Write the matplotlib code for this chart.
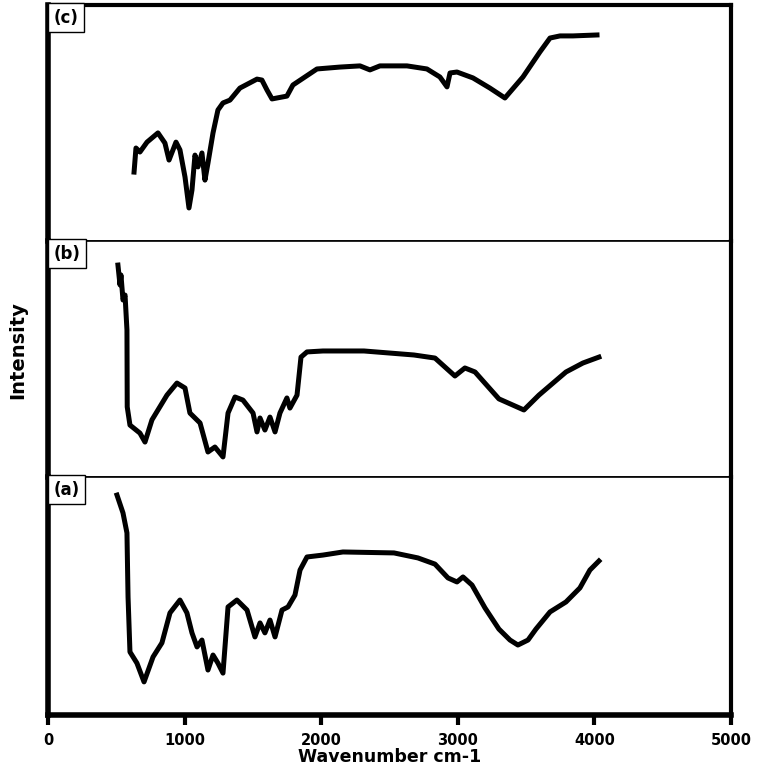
import matplotlib.pyplot as plt

# wavenumber (cm-1) and relative intensity
wn_c = [630, 644, 673, 725, 805, 856, 886, 937, 966, 1003, 1032, 1054, 1076, 1098, 1127,
        1149, 1171, 1208, 1244, 1281, 1332, 1405, 1530, 1566, 1603, 1640, 1749, 1793,
        1969, 2137, 2284, 2357, 2430, 2628, 2774, 2869, 2921, 2943, 2994, 3111, 3235,
        3345, 3477, 3601, 3675, 3748, 3843, 4019]
int_c = [29.2, 39.4, 37.7, 41.9, 45.8, 41.5, 34.3, 41.9, 38.6, 27.1, 14.0, 21.6, 36.4,
         31.4, 37.3, 25.8, 33.0, 45.8, 55.5, 58.5, 59.7, 64.8, 68.6, 68.2, 64.0, 60.2,
         61.4, 66.1, 72.9, 73.7, 74.2, 72.5, 74.2, 74.2, 72.9, 69.5, 65.3, 71.2, 71.6,
         69.1, 64.8, 60.6, 69.5, 80.1, 86.0, 86.9, 86.9, 87.3]

wn_b = [512, 527, 534, 549, 564, 578, 580, 600, 673, 710, 761, 805, 871, 944, 1003, 1039,
        1113, 1171, 1222, 1281, 1318, 1369, 1427, 1501, 1530, 1552, 1588, 1625, 1662,
        1698, 1749, 1771, 1823, 1852, 1896, 2013, 2123, 2313, 2679, 2833, 2979, 3052,
        3126, 3301, 3484, 3594, 3792, 3916, 4033]
int_b = [89.8, 81.4, 85.6, 75.0, 77.1, 62.3, 29.7, 22.0, 18.6, 14.8, 24.2, 28.4, 34.7,
         39.8, 37.7, 27.1, 22.9, 10.6, 12.7, 8.5, 27.1, 33.9, 32.6, 27.1, 19.1, 25.0,
         19.9, 25.4, 19.1, 27.1, 33.5, 29.2, 34.7, 50.8, 53.0, 53.4, 53.4, 53.4, 51.7,
         50.4, 42.8, 46.2, 44.5, 33.1, 28.4, 34.7, 44.5, 48.3, 50.8]

wn_a = [505, 549, 578, 586, 600, 651, 703, 769, 834, 893, 966, 1017, 1054, 1091, 1127,
        1171, 1208, 1244, 1281, 1318, 1383, 1457, 1515, 1552, 1588, 1625, 1662, 1713,
        1757, 1808, 1845, 1896, 2013, 2159, 2533, 2708, 2833, 2928, 2994, 3038, 3104,
        3199, 3301, 3382, 3440, 3514, 3572, 3675, 3792, 3894, 3967, 4033]
int_a = [92.4, 84.9, 76.5, 49.6, 26.5, 21.8, 13.9, 24.4, 30.3, 42.9, 48.3, 42.9, 34.5,
         28.6, 31.5, 18.9, 25.2, 21.8, 17.6, 45.4, 48.3, 44.1, 32.8, 38.7, 34.5, 39.9,
         32.8, 44.1, 45.4, 50.4, 60.9, 66.4, 67.2, 68.5, 68.1, 66.0, 63.4, 57.6, 55.9,
         58.0, 54.6, 45.0, 36.1, 31.5, 29.4, 31.5, 36.1, 43.3, 47.5, 53.4, 60.9, 64.7]

labels = ['(c)', '(b)', '(a)']
xticks = [0, 1000, 2000, 3000, 4000, 5000]

fig = plt.figure(figsize=(7.6, 7.7), dpi=100)
left, right = 48 / 760, 731 / 760
edges = [5, 241, 477, 715]  # pixel rows of panel borders

series = [(wn_c, int_c), (wn_b, int_b), (wn_a, int_a)]
axes = []
for i, (wn, inten) in enumerate(series):
    top = 1 - edges[i] / 770
    bot = 1 - edges[i + 1] / 770
    ax = fig.add_axes([left, bot, right - left, top - bot])
    ax.plot(wn, inten, color='black', linewidth=3.6, solid_joinstyle='round')
    ax.set_xlim(0, 5000)
    ax.set_ylim(0, 100)
    ax.set_yticks([])
    for s in ax.spines.values():
        s.set_linewidth(1.2)
    ax.spines['left'].set_linewidth(4)
    ax.spines['right'].set_linewidth(3)
    ax.text(0.008, 0.985, labels[i], transform=ax.transAxes, ha='left', va='top',
            fontsize=12, fontweight='bold',
            bbox=dict(boxstyle='square,pad=0.35', fc='white', ec='black', lw=1))
    axes.append(ax)

axes[0].spines['top'].set_linewidth(3)
for ax in axes[:2]:
    ax.set_xticks([])

ax = axes[2]
ax.spines['bottom'].set_linewidth(4)
ax.set_xticks(xticks)
ax.set_xticklabels([str(t) for t in xticks], fontsize=10.5, fontweight='bold')
ax.tick_params(axis='x', direction='out', length=7, width=3, pad=6)
ax.set_xlabel('Wavenumber cm-1', fontsize=12.5, fontweight='bold', labelpad=0)

fig.text(18 / 760, 1 - 350 / 770, 'Intensity', rotation=90, ha='center', va='center',
         fontsize=14, fontweight='bold', family=['Liberation Sans Narrow', 'DejaVu Sans'])

fig.savefig('out.png', dpi=100)
